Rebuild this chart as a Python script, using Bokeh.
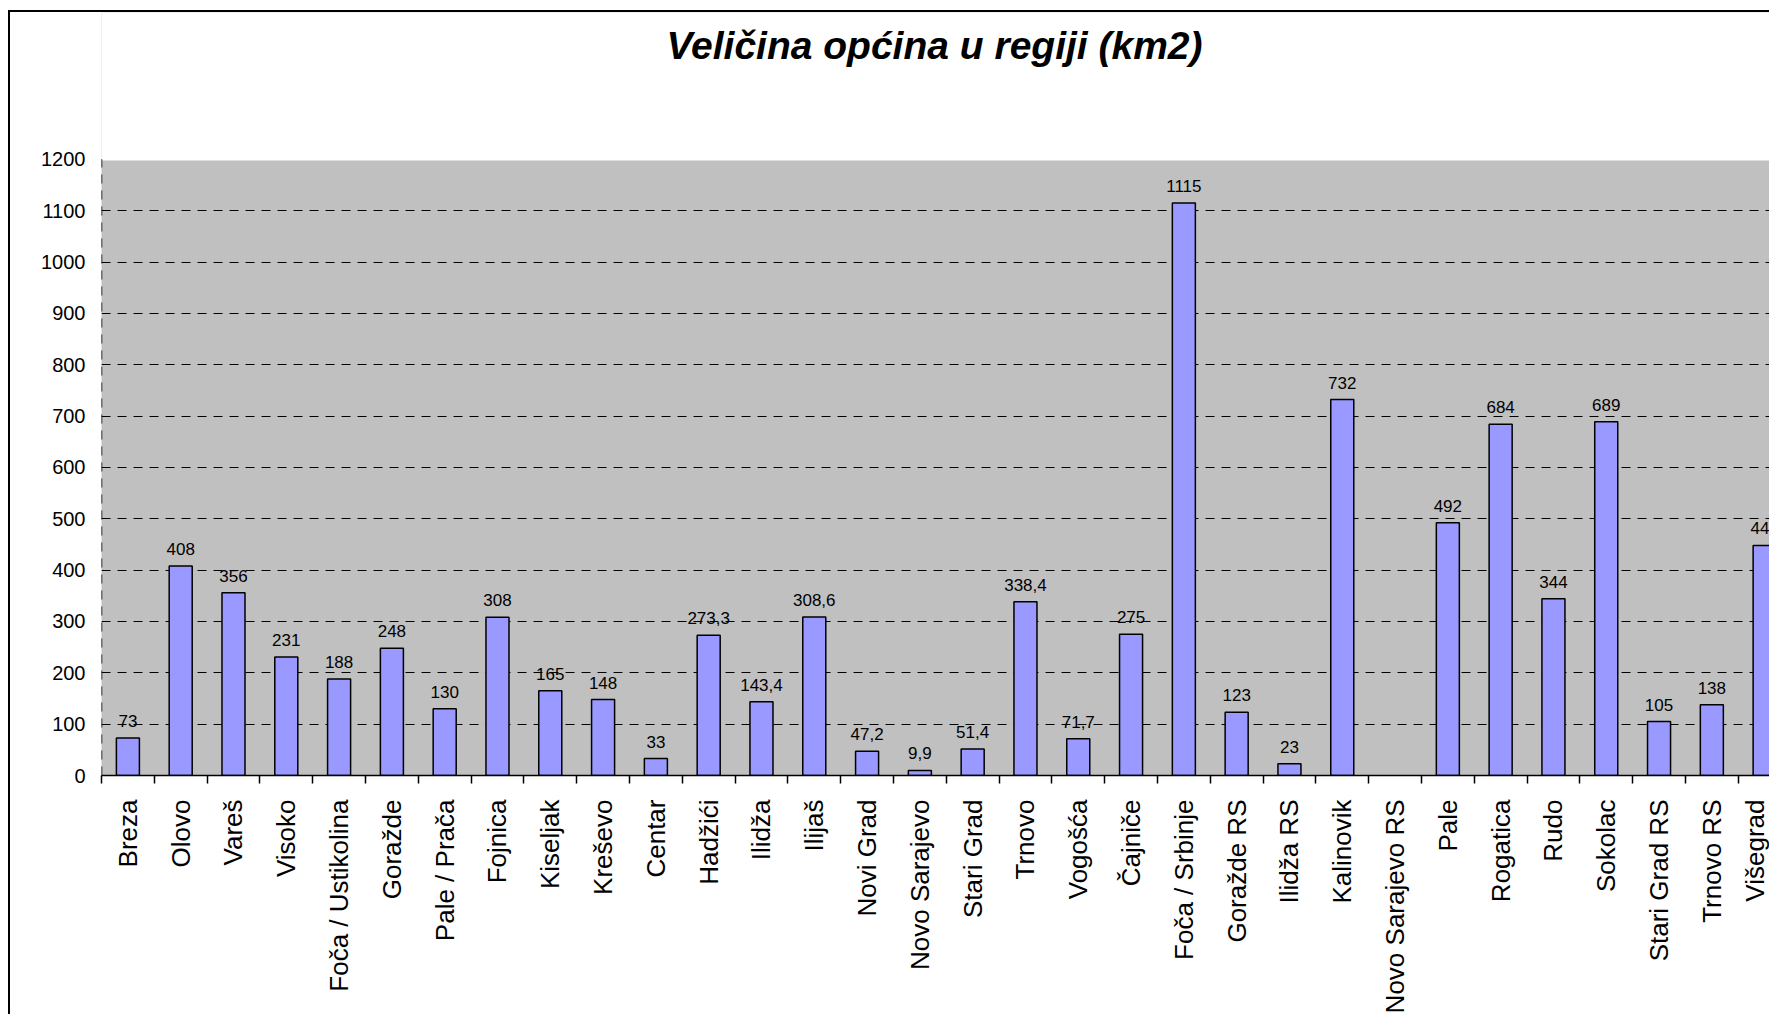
import math
import numpy as np
from bokeh.plotting import figure
from bokeh.models import ColumnDataSource, Range1d, FixedTicker, Label
from bokeh.core.properties import value
from bokeh.embed import file_html
from bokeh.resources import INLINE

# ---- data ----
municipalities = [
    "Breza", "Olovo", "Vareš", "Visoko", "Foča / Ustikolina", "Goražde",
    "Pale / Prača", "Fojnica", "Kiseljak", "Kreševo", "Centar", "Hadžići",
    "Ilidža", "Ilijaš", "Novi Grad", "Novo Sarajevo", "Stari Grad", "Trnovo",
    "Vogošća", "Čajniče", "Foča / Srbinje", "Goražde RS", "Ilidža RS",
    "Kalinovik", "Novo Sarajevo RS", "Pale", "Rogatica", "Rudo", "Sokolac",
    "Stari Grad RS", "Trnovo RS", "Višegrad",
]
areas_km2 = [
    73, 408, 356, 231, 188, 248,
    130, 308, 165, 148, 33, 273.3,
    143.4, 308.6, 47.2, 9.9, 51.4, 338.4,
    71.7, 275, 1115, 123, 23,
    732, None, 492, 684, 344, 689,
    105, 138, 448,
]
y_ticks = list(range(0, 1201, 100))
y_max = 1200
title_text = "Veličina općina u regiji (km2)"

n = len(municipalities)
xs = list(range(n))
tops = [np.nan if a is None else a for a in areas_km2]
labels = ["" if a is None else f"{a:g}".replace(".", ",") for a in areas_km2]
src = ColumnDataSource(data=dict(x=xs, top=tops, label=labels))

FONT = "Liberation Sans"

# layout (pixels): plot area spans 617 px for 0..1200, frame reaches canvas top
FRAME_H = 764
AXIS_PX = 617
y_top_ext = y_max * FRAME_H / AXIS_PX

p = figure(
    width=1761, height=1004,
    output_backend="svg", toolbar_location=None,
    x_range=Range1d(-0.5, 31.13), y_range=Range1d(0, y_top_ext),
    min_border_left=91, min_border_right=0,
    min_border_top=0, min_border_bottom=240,
    background_fill_color="#C0C0C0", border_fill_color="white",
)
p.margin = (10, 0, 0, 8)
p.styles = {"border-left": "2px solid black", "border-top": "2px solid black"}
p.outline_line_color = None

# gridlines
p.xgrid.visible = False
p.ygrid.ticker = FixedTicker(ticks=y_ticks)
p.ygrid.grid_line_color = "black"
p.ygrid.grid_line_dash = "9 7"
p.ygrid.grid_line_width = 1

# white area above the plot area (chart area outside the plot area)
p.quad(left=[-3], right=[n + 2], bottom=[y_max + 1.5], top=[y_top_ext + 50],
       fill_color="white", line_color="white", line_width=4)

# dashed left border of the plot area
p.segment(x0=[-0.5], y0=[0], x1=[-0.5], y1=[y_max], line_color="black",
          line_dash="9 7", line_width=1.5)

# bars
p.vbar(x="x", top="top", bottom=0, width=0.436, source=src,
       fill_color="#9999FF", line_color="black", line_width=1.5)

# value labels
p.text(x="x", y="top", text="label", source=src,
       text_font=value(FONT), text_font_size="17px", text_color="black",
       text_align="center", text_baseline="alphabetic", y_offset=-17)

# x axis
xa = p.xaxis[0]
xa.ticker = FixedTicker(ticks=xs, minor_ticks=[i - 0.5 for i in range(n + 1)])
xa.major_label_overrides = {i: name for i, name in enumerate(municipalities)}
xa.major_label_orientation = math.pi / 2
xa.major_tick_line_color = None
xa.major_tick_out = 0
xa.major_tick_in = 0
xa.minor_tick_line_color = "black"
xa.minor_tick_line_width = 1.5
xa.minor_tick_out = 8
xa.minor_tick_in = 0
xa.axis_line_color = "black"
xa.axis_line_width = 1.5
xa.major_label_standoff = 16
xa.major_label_text_font = FONT
xa.major_label_text_font_size = "26px"
xa.major_label_text_color = "black"

# y axis
ya = p.yaxis[0]
ya.ticker = FixedTicker(ticks=y_ticks)
ya.axis_line_color = None
ya.major_tick_line_color = None
ya.minor_tick_line_color = None
ya.major_tick_out = 0
ya.major_tick_in = 0
ya.major_label_standoff = 16
ya.major_label_text_font = FONT
ya.major_label_text_font_size = "20px"
ya.major_label_text_color = "black"

# title (screen units, measured from the frame's bottom-left)
p.add_layout(Label(x=833, y=FRAME_H - 34, x_units="screen", y_units="screen",
                   text=title_text, text_font=FONT, text_font_size="39px",
                   text_font_style="bold italic", text_color="black",
                   text_align="center", text_baseline="alphabetic"))

open("out.html", "w").write(file_html(p, INLINE))
